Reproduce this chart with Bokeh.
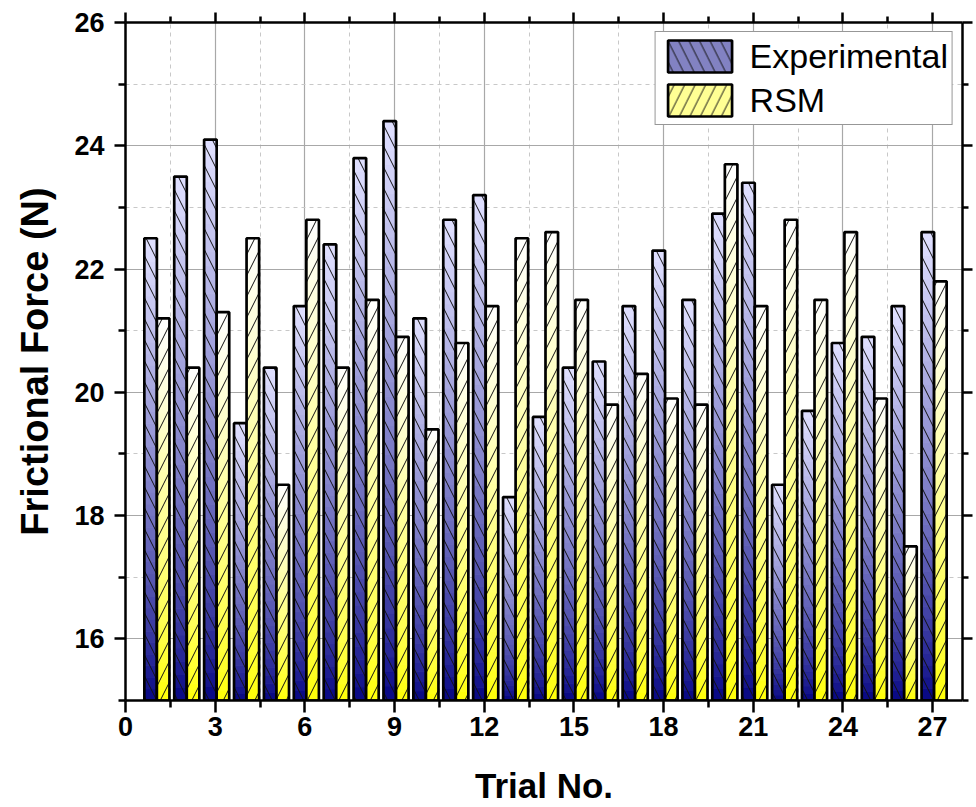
import numpy as np
from bokeh.plotting import figure
from bokeh.models import (ColumnDataSource, Legend, LegendItem, LinearAxis,
                          FixedTicker, Range1d, CustomLabelingPolicy)
from bokeh.embed import file_html
from bokeh.resources import INLINE

# ---------------- data ----------------
trials = list(range(1, 28))
experimental = [22.5, 23.5, 24.1, 19.5, 20.4, 21.4, 22.4, 23.8, 24.4, 21.2,
                22.8, 23.2, 18.3, 19.6, 20.4, 20.5, 21.4, 22.3, 21.5, 22.9,
                23.4, 18.5, 19.7, 20.8, 20.9, 21.4, 22.6]
rsm = [21.2, 20.4, 21.3, 22.5, 18.5, 22.8, 20.4, 21.5, 20.9, 19.4,
       20.8, 21.4, 22.5, 22.6, 21.5, 19.8, 20.3, 19.9, 19.8, 23.7,
       21.4, 22.8, 21.5, 22.6, 19.9, 17.5, 21.8]
series_names = ["Experimental", "RSM"]
x_tick_values = [0, 3, 6, 9, 12, 15, 18, 21, 24, 27]
y_tick_values = [16, 18, 20, 22, 24, 26]
x_title = "Trial No."
y_title = "Frictional Force (N)"

# ---------------- style ----------------
Y_MIN, Y_MAX = 15, 26
X_MIN, X_MAX = 0, 28
BAR_W = 0.42
OFFSETS = [-0.16, 0.26]
TOP_COLORS = [(224, 224, 255), (255, 255, 255)]
BOTTOM_COLORS = [(0, 0, 128), (255, 255, 0)]
HATCHES = ["left_diagonal_line", "right_diagonal_line"]
MID_COLORS = ["#8282c2", "#ffff94"]
GAMMA = 0.72
N_SLICES = 40
FONT = "Liberation Sans"


def mix(c0, c1, f):
    r = [int(round(a + (b - a) * f)) for a, b in zip(c0, c1)]
    return "#%02x%02x%02x" % tuple(r)


p = figure(width=976, height=807,
           x_range=Range1d(X_MIN, X_MAX), y_range=Range1d(Y_MIN, Y_MAX),
           output_backend="svg", toolbar_location=None,
           min_border_left=125, min_border_right=11,
           min_border_top=22, min_border_bottom=106)
p.outline_line_color = None
p.background_fill_color = "white"
p.border_fill_color = "white"

x_minor = [v + 1.5 for v in x_tick_values]
y_minor = [v - 1 for v in y_tick_values]
xt = FixedTicker(ticks=x_tick_values, minor_ticks=x_minor)
yt = FixedTicker(ticks=y_tick_values, minor_ticks=y_minor)

for ax, tk in ((p.xaxis[0], xt), (p.yaxis[0], yt)):
    ax.ticker = tk
    ax.axis_line_width = 2.5
    ax.axis_line_color = "black"
    ax.major_tick_line_width = 2.5
    ax.minor_tick_line_width = 2.5
    ax.major_tick_in = 0
    ax.minor_tick_in = 0
    ax.major_label_text_font = FONT
    ax.major_label_text_font_style = "bold"
    ax.major_label_text_font_size = "27px"
    ax.major_label_text_color = "black"
    ax.axis_label_text_font = FONT
    ax.axis_label_text_font_style = "bold"
    ax.axis_label_text_color = "black"

p.xaxis.axis_label_text_font_size = "35px"
p.yaxis.axis_label_text_font_size = "38px"
p.xaxis.major_tick_out = 12
p.xaxis.minor_tick_out = 7
p.xaxis.major_label_standoff = 4
p.xaxis.axis_label = x_title
p.xaxis.axis_label_standoff = 27
p.yaxis.major_tick_out = 11
p.yaxis.minor_tick_out = 7
p.yaxis.major_label_standoff = 10
p.yaxis.axis_label = y_title
p.yaxis.axis_label_standoff = 15

p.xgrid.ticker = xt
p.ygrid.ticker = yt
for g in (p.xgrid[0], p.ygrid[0]):
    g.grid_line_color = "#a8a8a8"
    g.grid_line_width = 1.2
    g.minor_grid_line_color = "#c8c8c8"
    g.minor_grid_line_dash = "4 4"
    g.minor_grid_line_width = 1

hide_labels = CustomLabelingPolicy(code="""
    const all = [...indices];
    for (const i of all) indices.unset(i);
    return indices;
""")
for loc, tk in (("above", xt), ("right", yt)):
    ax = LinearAxis(ticker=tk, axis_line_width=2.5, axis_line_color="black",
                    major_tick_line_width=2.5, minor_tick_line_width=2.5,
                    major_tick_in=0, minor_tick_in=0,
                    major_tick_out=10, minor_tick_out=6,
                    major_label_text_font_size="1px", major_label_standoff=0,
                    major_label_policy=hide_labels)
    p.add_layout(ax, loc)

# ---------------- bars ----------------
legend_items = []
for si, vals in enumerate([experimental, rsm]):
    xs = [t + OFFSETS[si] for t in trials]
    sx, sb, st, sc = [], [], [], []
    for xi, v in zip(xs, vals):
        h = (v - Y_MIN) / N_SLICES
        for k in range(N_SLICES):
            f = ((k + 0.5) / N_SLICES) ** GAMMA
            sx.append(xi)
            sb.append(Y_MIN + k * h)
            st.append(Y_MIN + (k + 1) * h)
            sc.append(mix(BOTTOM_COLORS[si], TOP_COLORS[si], f))
    src = ColumnDataSource(dict(x=sx, bottom=sb, top=st, color=sc))
    p.vbar(x="x", bottom="bottom", top="top", width=BAR_W, source=src,
           fill_color="color", line_color="color", line_width=1)
    osrc = ColumnDataSource(dict(x=xs, top=vals))
    p.vbar(x="x", top="top", bottom=Y_MIN, width=BAR_W, source=osrc,
           fill_alpha=0, line_color="black", line_width=2.7,
           hatch_pattern=HATCHES[si], hatch_color="#101010",
           hatch_weight=1, hatch_scale=21)
    lr = p.vbar(x="x", top="top", bottom=Y_MIN, width=BAR_W, source=osrc,
                fill_color=MID_COLORS[si], line_color="black", line_width=2.7,
                hatch_pattern=HATCHES[si], hatch_color="#101010",
                hatch_weight=1, hatch_scale=21, visible=False)
    legend_items.append(LegendItem(label=series_names[si], renderers=[lr]))

legend = Legend(items=legend_items, location="top_right",
                glyph_width=80, glyph_height=40, spacing=4, padding=4,
                margin=9, label_standoff=10, label_height=40,
                label_text_font=FONT, label_text_font_size="34px",
                label_text_color="black",
                border_line_color="#303030", border_line_width=1.5,
                background_fill_color="white", background_fill_alpha=1,
                click_policy="none")
p.add_layout(legend)

open("out.html", "w").write(file_html(p, INLINE))
